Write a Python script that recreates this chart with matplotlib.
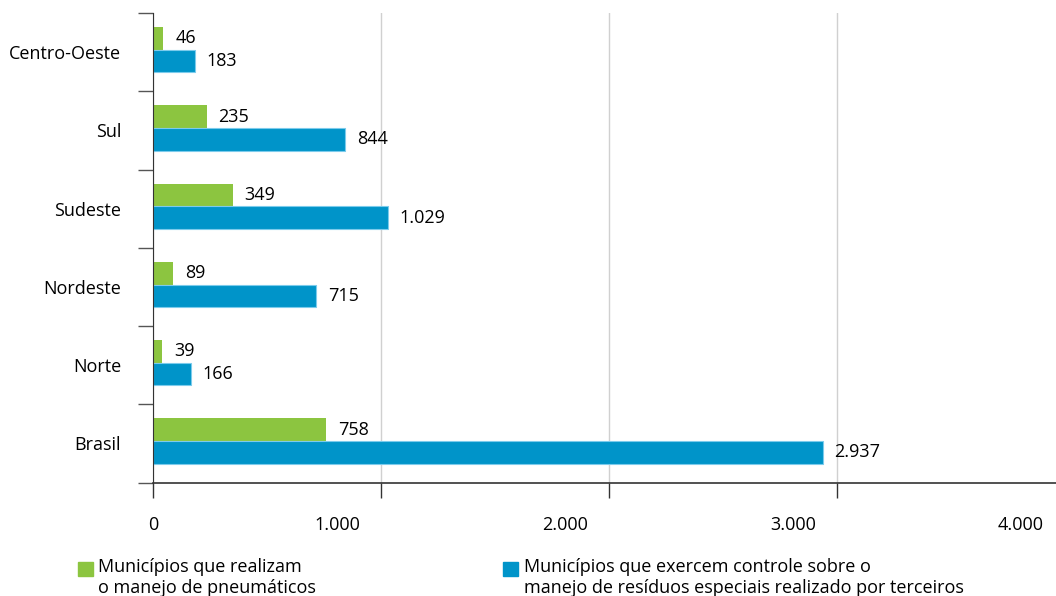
import matplotlib
matplotlib.use('Agg')
import matplotlib.pyplot as plt
import matplotlib.transforms as mtransforms
from matplotlib.patches import Rectangle
from matplotlib.ticker import FixedLocator

# Dados por região
regioes = ['Centro-Oeste', 'Sul', 'Sudeste', 'Nordeste', 'Norte', 'Brasil']
pneumaticos = [46, 235, 349, 89, 39, 758]
residuos_terceiros = [183, 844, 1029, 715, 166, 2937]
x_ticks = [0, 1000, 2000, 3000, 4000]
x_tick_labels = ['0', '1.000', '2.000', '3.000', '4.000']

legenda_pneu = 'Municípios que realizam\no manejo de pneumáticos'
legenda_resid = ('Municípios que exercem controle sobre o\n'
                 'manejo de resíduos especiais realizado por terceiros')

VERDE = '#8cc540'
AZUL = '#0094c9'


def fmt(v):
    return f'{v:,}'.replace(',', '.')


W, H, DPI = 1056, 596, 100


def fx(px):
    return px / W


def fy(py):
    return 1 - py / H


plt.rcParams['font.family'] = ['Open Sans', 'DejaVu Sans']
plt.rcParams['font.size'] = 13

fig = plt.figure(figsize=(W / DPI, H / DPI), dpi=DPI)
ax = fig.add_axes([fx(153), fy(482.5), fx(1065) - fx(153), (482.5 - 13) / H])

pos = list(range(len(regioes)))
h = 0.29
b1 = ax.barh([p - 0.03 - h / 2 for p in pos], pneumaticos, height=h,
             color=VERDE, linewidth=0)
b2 = ax.barh([p - 0.03 + h / 2 for p in pos], residuos_terceiros, height=h,
             color=AZUL, edgecolor='#7ccbec', linewidth=0.8)
ax.bar_label(b1, labels=[fmt(v) for v in pneumaticos], padding=8.6, fontsize=13)
ax.bar_label(b2, labels=[fmt(v) for v in residuos_terceiros], padding=8.6, fontsize=13)

ax.set_xlim(0, 4000)
ax.set_ylim(len(regioes) - 0.5, -0.5)

# eixo y: rótulos no centro, traços nas divisas
ax.set_yticks(pos)
ax.set_yticklabels(regioes)
ax.tick_params(axis='y', which='major', length=0, pad=23)
ax.yaxis.set_minor_locator(FixedLocator([p - 0.5 for p in range(len(regioes) + 1)]))
ax.tick_params(axis='y', which='minor', length=10.8, width=1, color='#555555', direction='out')

ax.set_xticks(x_ticks)
ax.set_xticklabels(x_tick_labels)
ax.tick_params(axis='x', length=10.8, width=1, color='#333333', pad=13)
for i, lab in enumerate(ax.get_xticklabels()):
    if i > 0:
        lab.set_transform(lab.get_transform() +
                          mtransforms.ScaledTranslation(-0.44, 0, fig.dpi_scale_trans))

ax.grid(axis='x', color='#d0d0d0', linewidth=1)
ax.set_axisbelow(True)
for s in ['top', 'right']:
    ax.spines[s].set_visible(False)
ax.spines['left'].set_color('#333333')
ax.spines['bottom'].set_color('#333333')
ax.spines['bottom'].set_linewidth(1.2)

# legenda
for x0, cor, txt, tx in [(78, VERDE, legenda_pneu, 98), (503, AZUL, legenda_resid, 524)]:
    fig.add_artist(Rectangle((fx(x0), fy(576)), 15 / W, 14 / H, color=cor,
                             transform=fig.transFigure))
    fig.text(fx(tx), fy(558), txt, va='top', ha='left', fontsize=13, linespacing=1.2)

fig.savefig('out.png', dpi=DPI)
